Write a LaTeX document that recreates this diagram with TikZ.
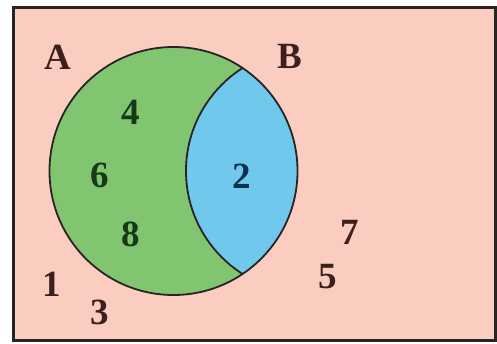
\documentclass[tikz,border=0pt]{standalone}
\usepackage{fontspec}
\setmainfont{Liberation Serif}
\definecolor{bgpink}{RGB}{250,205,192}
\definecolor{agreen}{RGB}{130,197,112}
\definecolor{bblue}{RGB}{112,201,236}
\definecolor{edge}{RGB}{40,36,36}
\definecolor{brownt}{RGB}{60,32,30}
\definecolor{greent}{RGB}{20,58,24}
\definecolor{bluet}{RGB}{12,48,78}
\tikzset{
  lbl/.style={font=\fontsize{37}{37}\selectfont\bfseries, inner sep=0pt},
  outl/.style={draw=edge, line width=1.8pt},
}
\begin{document}
\begin{tikzpicture}[x=1pt,y=-1pt]
\useasboundingbox (0,0) rectangle (497,344);
\fill[white] (0,0) rectangle (497,344);
\fill[bgpink] (13,8) rectangle (495,340);
\draw[draw=edge, line width=3pt] (13,8) rectangle (495,340);
\coordinate (ca) at (173.5,171);
\coordinate (cb) at (308,171);
\fill[agreen] (ca) circle[radius=124];
\begin{scope}
  \clip (ca) circle[radius=124];
  \fill[bblue] (cb) circle[radius=122];
  \draw[outl] (cb) circle[radius=122];
\end{scope}
\draw[outl] (ca) circle[radius=124];
\node[lbl, text=brownt] (A) at (58,57) {A};
\node[lbl, text=brownt] (B) at (290,56) {B};
\node[lbl, text=greent] (n4) at (131,112) {4};
\node[lbl, text=greent] (n6) at (100,175) {6};
\node[lbl, text=greent] (n8) at (131,234) {8};
\node[lbl, text=bluet] (n2) at (242,176) {2};
\node[lbl, text=brownt] (n1) at (52,284) {1};
\node[lbl, text=brownt] (n3) at (100,312) {3};
\node[lbl, text=brownt] (n7) at (350,232) {7};
\node[lbl, text=brownt] (n5) at (328,277) {5};
\end{tikzpicture}
\end{document}
